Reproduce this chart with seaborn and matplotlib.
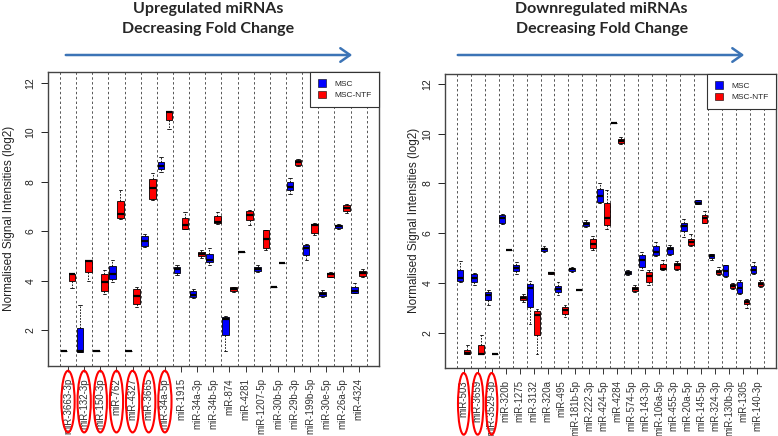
import numpy as np
import pandas as pd
import seaborn as sns
import matplotlib.pyplot as plt
from matplotlib.patches import Ellipse, Patch, FancyArrowPatch
from matplotlib.transforms import blended_transform_factory

# each box: [min, q1, median, q3, max]
up_mirnas = ["miR-3663-3p", "miR-132-3p", "miR-150-3p", "miR-762", "miR-4327",
             "miR-3665", "miR-34a-5p", "miR-1915", "miR-34a-3p", "miR-34b-5p",
             "miR-874", "miR-4281", "miR-1207-5p", "miR-30b-5p", "miR-29b-3p",
             "miR-199b-5p", "miR-30e-5p", "miR-26a-5p", "miR-4324"]
up_msc = [[1.14, 1.14, 1.14, 1.14, 1.14], [1.12, 1.12, 1.14, 2.09, 3.03],
          [1.14, 1.14, 1.14, 1.14, 1.14], [3.95, 4.08, 4.25, 4.58, 4.85],
          [1.14, 1.14, 1.14, 1.14, 1.14], [5.36, 5.40, 5.59, 5.80, 5.90],
          [8.39, 8.50, 8.62, 8.79, 9.00], [4.24, 4.32, 4.46, 4.55, 4.65],
          [3.30, 3.34, 3.43, 3.58, 3.65], [4.62, 4.75, 4.85, 5.08, 5.33],
          [1.14, 1.79, 2.46, 2.53, 2.56], [5.16, 5.16, 5.16, 5.16, 5.16],
          [4.35, 4.39, 4.47, 4.55, 4.62], [3.74, 3.74, 3.74, 3.74, 3.74],
          [7.49, 7.65, 7.80, 7.99, 8.15], [4.82, 5.02, 5.32, 5.45, 5.49],
          [3.34, 3.38, 3.46, 3.54, 3.61], [6.07, 6.13, 6.19, 6.26, 6.30],
          [3.50, 3.51, 3.57, 3.74, 3.91]]
up_ntf = [[3.70, 3.97, 4.25, 4.28, 4.30], [3.99, 4.35, 4.78, 4.82, 4.85],
          [3.45, 3.59, 3.95, 4.28, 4.42], [6.50, 6.53, 6.68, 7.22, 7.65],
          [2.93, 3.04, 3.38, 3.65, 3.74], [7.24, 7.29, 7.76, 8.09, 8.36],
          [10.11, 10.48, 10.83, 10.85, 10.87], [6.07, 6.10, 6.23, 6.54, 6.77],
          [4.91, 4.99, 5.09, 5.16, 5.22], [6.30, 6.33, 6.37, 6.60, 6.77],
          [3.55, 3.57, 3.66, 3.74, 3.76], [6.23, 6.44, 6.67, 6.81, 6.87],
          [5.25, 5.33, 5.70, 6.03, 6.06], [4.73, 4.73, 4.73, 4.73, 4.73],
          [8.62, 8.69, 8.78, 8.86, 8.90], [5.83, 5.91, 6.26, 6.30, 6.34],
          [4.15, 4.16, 4.25, 4.31, 4.35], [6.75, 6.83, 6.94, 7.04, 7.10],
          [4.15, 4.17, 4.30, 4.38, 4.48]]

down_mirnas = ["miR-503", "miR-3659", "miR-3529-3p", "miR-320b", "miR-1275",
               "miR-3132", "miR-320a", "miR-495", "miR-181b-5p", "miR-222-3p",
               "miR-424-5p", "miR-4284", "miR-574-5p", "miR-143-3p", "miR-106a-5p",
               "miR-455-3p", "miR-20a-5p", "miR-145-5p", "miR-324-3p", "miR-130b-3p",
               "miR-1305", "miR-140-3p"]
down_msc = [[4.04, 4.07, 4.20, 4.54, 4.87], [3.93, 4.04, 4.20, 4.36, 4.39],
            [3.10, 3.30, 3.53, 3.64, 3.71], [6.38, 6.42, 6.63, 6.75, 6.79],
            [4.35, 4.47, 4.60, 4.74, 4.84], [2.34, 3.03, 3.80, 3.97, 4.07],
            [5.25, 5.27, 5.35, 5.42, 5.47], [3.53, 3.64, 3.77, 3.87, 4.04],
            [4.44, 4.48, 4.55, 4.60, 4.64], [6.25, 6.29, 6.38, 6.45, 6.52],
            [7.21, 7.26, 7.48, 7.79, 8.02], [10.43, 10.43, 10.43, 10.43, 10.43],
            [4.31, 4.35, 4.41, 4.48, 4.54], [4.51, 4.64, 4.91, 5.14, 5.25],
            [5.07, 5.11, 5.25, 5.49, 5.65], [5.14, 5.18, 5.35, 5.45, 5.54],
            [5.85, 6.08, 6.29, 6.41, 6.59], [7.16, 7.16, 7.23, 7.32, 7.35],
            [4.94, 5.02, 5.08, 5.15, 5.18], [4.24, 4.28, 4.48, 4.71, 4.74],
            [3.57, 3.60, 3.80, 4.04, 4.11], [4.37, 4.41, 4.51, 4.67, 4.84]]
down_ntf = [[1.13, 1.13, 1.20, 1.32, 1.49], [1.13, 1.13, 1.16, 1.52, 1.90],
            [1.16, 1.16, 1.16, 1.16, 1.16], [5.31, 5.31, 5.31, 5.31, 5.31],
            [3.24, 3.32, 3.40, 3.48, 3.57], [1.16, 1.92, 2.73, 2.86, 2.97],
            [4.35, 4.35, 4.40, 4.44, 4.44], [2.63, 2.77, 2.90, 3.03, 3.10],
            [3.72, 3.72, 3.72, 3.72, 3.72], [5.34, 5.42, 5.58, 5.78, 5.88],
            [6.18, 6.32, 6.61, 7.21, 7.72], [9.60, 9.64, 9.71, 9.77, 9.87],
            [3.64, 3.68, 3.77, 3.84, 3.91], [3.91, 4.04, 4.28, 4.44, 4.54],
            [4.54, 4.55, 4.58, 4.75, 4.94], [4.54, 4.58, 4.71, 4.80, 4.87],
            [5.47, 5.51, 5.65, 5.75, 5.98], [6.41, 6.42, 6.61, 6.72, 6.88],
            [4.31, 4.35, 4.44, 4.54, 4.64], [3.77, 3.80, 3.88, 3.95, 4.00],
            [3.01, 3.14, 3.24, 3.30, 3.37], [3.84, 3.88, 3.97, 4.04, 4.11]]

groups = ["MSC", "MSC-NTF"]
colors = {"MSC": "#0000FF", "MSC-NTF": "#FF0000"}

sns.set_style("white")
plt.rcParams["font.family"] = ["Liberation Sans", "DejaVu Sans"]


def long_table(names, msc, ntf):
    rows = []
    for name, a, b in zip(names, msc, ntf):
        rows += [(name, "MSC", v) for v in a]
        rows += [(name, "MSC-NTF", v) for v in b]
    return pd.DataFrame(rows, columns=["mirna", "group", "value"])


def panel(ax, names, msc, ntf, n_circled, xlim, ylim, ylab_x):
    df = long_table(names, msc, ntf)
    sns.boxplot(data=df, x="mirna", y="value", hue="group", order=names,
                hue_order=groups, palette=colors, saturation=1, width=1.0,
                gap=0.18, whis=(0, 100), showfliers=False, linecolor="black",
                linewidth=0.6, legend=False, ax=ax,
                medianprops=dict(color="black", linewidth=1.6),
                whiskerprops=dict(linestyle=(0, (2, 1.5)), linewidth=0.6),
                capprops=dict(linewidth=0.6))
    for i in range(len(names) + 1):
        ax.axvline(i - 0.5, color="#555555", lw=0.7, ls=(0, (2.5, 2.5)), zorder=0)
    ax.set_xlim(*xlim)
    ax.set_ylim(*ylim)
    ax.set_yticks([2, 4, 6, 8, 10, 12])
    ax.tick_params(axis="y", labelrotation=90, labelsize=7.5, length=5, width=0.7,
                   pad=4, left=True, colors="#222222")
    ax.tick_params(axis="x", labelrotation=90, labelsize=7, length=4, width=0.7,
                   pad=5, bottom=True, colors="#333333")
    for lab in ax.get_yticklabels():
        lab.set_va("center")
    ax.set_xlabel("")
    ax.set_ylabel("Normalised Signal Intensities (log2)", fontsize=8.5, color="#222222")
    ax.yaxis.set_label_coords(ylab_x, 0.5)
    for s in ax.spines.values():
        s.set_color("#444444")
        s.set_linewidth(1.0)

    handles = [Patch(facecolor=colors[g], edgecolor="black", lw=0.4) for g in groups]
    leg = ax.legend(handles, groups, loc="upper right", fontsize=6, frameon=True,
                    fancybox=False, borderaxespad=0, handlelength=1.0,
                    handleheight=1.0, handletextpad=1.0, borderpad=0.9,
                    labelspacing=0.3, framealpha=1)
    leg.get_frame().set_edgecolor("#333333")
    leg.get_frame().set_linewidth(0.8)

    trans = blended_transform_factory(ax.transData, ax.transAxes)
    for i in range(n_circled):
        ax.add_patch(Ellipse((i, -0.123), 0.82, 0.21, transform=trans,
                             fill=False, edgecolor="#FF0000", lw=1.5, clip_on=False))


fig = plt.figure(figsize=(7.78, 4.36), dpi=100)
ax1 = fig.add_axes([48 / 778, 1 - 365.5 / 436, 331 / 778, 293.5 / 436])
ax2 = fig.add_axes([445 / 778, 1 - 367.7 / 436, 331 / 778, 293.7 / 436])

panel(ax1, up_mirnas, up_msc, up_ntf, 7, (-1.24, 19.26), (0.574, 12.43), -0.1)
panel(ax2, down_mirnas, down_msc, down_ntf, 3, (-1.34, 22.36), (0.597, 12.40), -0.075)

for xc, line1 in [(208 / 778, "Upregulated miRNAs"), (601.7 / 778, "Downregulated miRNAs")]:
    fig.text(xc, 1 - 8.5 / 436, line1, ha="center", va="center", fontsize=11.5,
             fontweight="bold", family="Lato")
    fig.text(xc, 1 - 29.5 / 436, "Decreasing Fold Change", ha="center", va="center",
             fontsize=11.5, fontweight="bold", family="Lato")

for x0, x1 in [(63, 355), (455, 747)]:
    fig.patches.append(FancyArrowPatch(
        (x0 / 778, 1 - 55 / 436), (x1 / 778, 1 - 55 / 436), transform=fig.transFigure,
        arrowstyle="->,head_length=0.5,head_width=0.35", mutation_scale=14,
        color="#3C74B6", lw=1.8))

fig.savefig("out.png", dpi=100)
